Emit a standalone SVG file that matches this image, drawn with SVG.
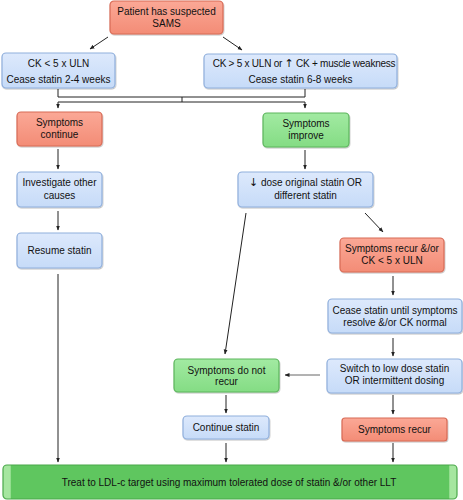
<svg xmlns="http://www.w3.org/2000/svg" width="463" height="500" viewBox="0 0 463 500">
<defs>
<linearGradient id="gb" x1="0" y1="0" x2="0" y2="1"><stop offset="0" stop-color="#dde9fc"/><stop offset="1" stop-color="#c6dbf8"/></linearGradient>
<linearGradient id="gr" x1="0" y1="0" x2="0" y2="1"><stop offset="0" stop-color="#fba896"/><stop offset="1" stop-color="#f38c76"/></linearGradient>
<linearGradient id="gg" x1="0" y1="0" x2="0" y2="1"><stop offset="0" stop-color="#a2eaa2"/><stop offset="1" stop-color="#84dc84"/></linearGradient>
<linearGradient id="gbar" x1="0" y1="0" x2="1" y2="0"><stop offset="0" stop-color="#a6e6a0"/><stop offset="0.016" stop-color="#a6e6a0"/><stop offset="0.018" stop-color="#5fc65f"/><stop offset="0.982" stop-color="#5fc65f"/><stop offset="0.984" stop-color="#a6e6a0"/><stop offset="1" stop-color="#a6e6a0"/></linearGradient>
<filter id="sh" x="-5%" y="-10%" width="110%" height="130%"><feDropShadow dx="0.6" dy="1" stdDeviation="0.6" flood-color="#000" flood-opacity="0.25"/></filter>
<marker id="ah" viewBox="0 0 10 10" refX="9" refY="5" markerWidth="5" markerHeight="5" orient="auto"><path d="M0,1 L10,5 L0,9 z" fill="#222"/></marker>
</defs>
<style>
.b{fill:url(#gb);stroke:#8fafdc;stroke-width:1.2;filter:url(#sh)}
.r{fill:url(#gr);stroke:#d86a55;stroke-width:1.2;filter:url(#sh)}
.g{fill:url(#gg);stroke:#5cb55c;stroke-width:1.2;filter:url(#sh)}
.t{font-family:"Liberation Sans",Arial,sans-serif;font-size:10px;fill:#111;text-anchor:middle}
.ar{font-family:"DejaVu Sans",sans-serif;font-size:11px}
.c{fill:none;stroke:#222;stroke-width:1}
.a{fill:none;stroke:#222;stroke-width:1;marker-end:url(#ah)}
</style>
<g id="connectors">
<line class="a" x1="108" y1="37" x2="90" y2="49"/>
<line class="a" x1="223" y1="37" x2="242" y2="50"/>
<polyline class="c" points="58,89 58,97 305,97 305,89"/>
<line class="c" x1="182" y1="97" x2="182" y2="102"/>
<line class="c" x1="58" y1="102" x2="305" y2="102"/>
<line class="a" x1="58" y1="102" x2="58" y2="108"/>
<line class="a" x1="305" y1="102" x2="305" y2="108"/>
<line class="a" x1="58" y1="149" x2="58" y2="169"/>
<line class="a" x1="305" y1="150" x2="305" y2="169"/>
<line class="a" x1="58" y1="211" x2="58" y2="230"/>
<line class="a" x1="58" y1="274" x2="58" y2="462"/>
<line class="a" x1="246" y1="213" x2="225" y2="354"/>
<line class="a" x1="365" y1="213" x2="383" y2="232"/>
<line class="a" x1="393" y1="276" x2="393" y2="295"/>
<line class="a" x1="393" y1="338" x2="393" y2="356"/>
<line class="a" x1="320" y1="375" x2="285" y2="375" style="stroke:#666"/>
<line class="a" x1="226" y1="395" x2="226" y2="413"/>
<line class="a" x1="393" y1="395" x2="393" y2="414"/>
<line class="a" x1="226" y1="443" x2="226" y2="462"/>
<line class="a" x1="393" y1="443" x2="393" y2="462"/>
</g>
<g id="n-start"><rect class="r" x="110" y="1" width="113" height="33" rx="4"/><text class="t" x="166.5" y="15">Patient has suspected</text><text class="t" x="166.5" y="27">SAMS</text></g>
<g id="n-ck-low"><rect class="b" x="2" y="53" width="113" height="35" rx="4"/><text class="t" x="58.5" y="67">CK &lt; 5 x ULN</text><text class="t" x="58.5" y="83">Cease statin 2-4 weeks</text></g>
<g id="n-ck-high"><rect class="b" x="204" y="54" width="193" height="34" rx="4"/><text class="t" x="304" y="67" style="letter-spacing:-0.25px">CK &gt; 5 x ULN or <tspan class="ar">↑</tspan> CK + muscle weakness</text><text class="t" x="300.5" y="83">Cease statin 6-8 weeks</text></g>
<g id="n-continue"><rect class="r" x="17" y="112" width="85" height="34" rx="4"/><text class="t" x="59.5" y="126">Symptoms</text><text class="t" x="59.5" y="138">continue</text></g>
<g id="n-improve"><rect class="g" x="263" y="113" width="86" height="34" rx="4"/><text class="t" x="306" y="127">Symptoms</text><text class="t" x="306" y="139">improve</text></g>
<g id="n-investigate"><rect class="b" x="17" y="172" width="85" height="35" rx="4"/><text class="t" x="59.5" y="186">Investigate other</text><text class="t" x="59.5" y="199">causes</text></g>
<g id="n-dose"><rect class="b" x="238" y="172" width="135" height="35" rx="4"/><text class="t" x="305.5" y="186"><tspan class="ar">↓</tspan> dose original statin OR</text><text class="t" x="305.5" y="199">different statin</text></g>
<g id="n-resume"><rect class="b" x="17" y="233" width="85" height="35" rx="4"/><text class="t" x="59.5" y="254">Resume statin</text></g>
<g id="n-recur-ck"><rect class="r" x="340" y="238" width="104" height="34" rx="4"/><text class="t" x="392" y="252">Symptoms recur &amp;/or</text><text class="t" x="392" y="264">CK &lt; 5 x ULN</text></g>
<g id="n-cease"><rect class="b" x="328" y="299" width="134" height="34" rx="4"/><text class="t" x="395" y="314">Cease statin until symptoms</text><text class="t" x="395" y="326">resolve &amp;/or CK normal</text></g>
<g id="n-no-recur"><rect class="g" x="174" y="359" width="105" height="33" rx="4"/><text class="t" x="226.5" y="374">Symptoms do not</text><text class="t" x="226.5" y="385">recur</text></g>
<g id="n-switch"><rect class="b" x="327" y="359" width="135" height="34" rx="4"/><text class="t" x="394.5" y="372">Switch to low dose statin</text><text class="t" x="394.5" y="384">OR intermittent dosing</text></g>
<g id="n-continue-statin"><rect class="b" x="183" y="416" width="86" height="23" rx="4"/><text class="t" x="226" y="431">Continue statin</text></g>
<g id="n-recur"><rect class="r" x="342" y="418" width="105" height="23" rx="3"/><text class="t" x="394.5" y="433">Symptoms recur</text></g>
<g id="n-treat"><rect x="3" y="465" width="454" height="34" rx="4" fill="url(#gbar)" stroke="#4aa84a" stroke-width="1.2"/><text class="t" x="229" y="486">Treat to LDL-c target using maximum tolerated dose of statin &amp;/or other LLT</text></g>
</svg>
